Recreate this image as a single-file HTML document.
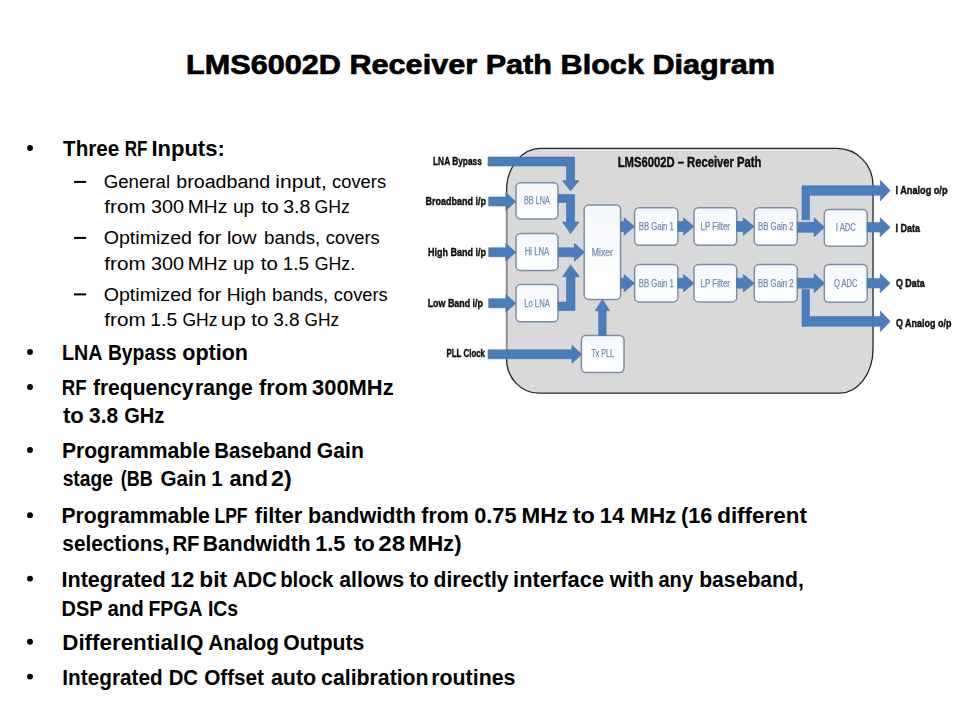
<!DOCTYPE html>
<html><head><meta charset="utf-8"><style>
html,body{margin:0;padding:0;background:#fff;}
svg{display:block;font-family:"Liberation Sans",sans-serif;}
</style></head><body>
<svg width="960" height="720" viewBox="0 0 960 720">
<defs><filter id="bl" x="-5%" y="-5%" width="110%" height="110%"><feGaussianBlur stdDeviation="0.45"/></filter><linearGradient id="bg" x1="0" y1="0" x2="0" y2="1"><stop offset="0" stop-color="#f4f7fb"/><stop offset="1" stop-color="#ffffff"/></linearGradient></defs>
<rect width="960" height="720" fill="#fff"/>
<text x="186" y="74" textLength="589" lengthAdjust="spacingAndGlyphs" font-size="28.5" font-weight="bold" fill="#000" stroke="#000" stroke-width="0.7">LMS6002D Receiver Path Block Diagram</text>
<text x="63.07" y="155.7" textLength="56.13" lengthAdjust="spacingAndGlyphs" font-size="22.5" font-weight="bold" fill="#000">Three</text>
<text x="124.66" y="155.7" textLength="22.67" lengthAdjust="spacingAndGlyphs" font-size="22.5" font-weight="bold" fill="#000">RF</text>
<text x="151.42" y="155.7" textLength="73.38" lengthAdjust="spacingAndGlyphs" font-size="22.5" font-weight="bold" fill="#000">Inputs:</text>
<text x="103.67" y="187.7" textLength="66.40" lengthAdjust="spacingAndGlyphs" font-size="18" font-weight="normal" fill="#000">General</text>
<text x="176.22" y="187.7" textLength="94.04" lengthAdjust="spacingAndGlyphs" font-size="18" font-weight="normal" fill="#000">broadband</text>
<text x="275.39" y="187.7" textLength="51.41" lengthAdjust="spacingAndGlyphs" font-size="18" font-weight="normal" fill="#000">input,</text>
<text x="332.13" y="187.7" textLength="53.93" lengthAdjust="spacingAndGlyphs" font-size="18" font-weight="normal" fill="#000">covers</text>
<text x="104.31" y="212.6" textLength="41.35" lengthAdjust="spacingAndGlyphs" font-size="18" font-weight="normal" fill="#000">from</text>
<text x="151.05" y="212.6" textLength="33.03" lengthAdjust="spacingAndGlyphs" font-size="18" font-weight="normal" fill="#000">300</text>
<text x="187.83" y="212.6" textLength="39.44" lengthAdjust="spacingAndGlyphs" font-size="18" font-weight="normal" fill="#000">MHz</text>
<text x="232.95" y="212.6" textLength="21.36" lengthAdjust="spacingAndGlyphs" font-size="18" font-weight="normal" fill="#000">up</text>
<text x="261.18" y="212.6" textLength="17.71" lengthAdjust="spacingAndGlyphs" font-size="18" font-weight="normal" fill="#000">to</text>
<text x="283.26" y="212.6" textLength="27.19" lengthAdjust="spacingAndGlyphs" font-size="18" font-weight="normal" fill="#000">3.8</text>
<text x="314.52" y="212.6" textLength="35.37" lengthAdjust="spacingAndGlyphs" font-size="18" font-weight="normal" fill="#000">GHz</text>
<text x="103.68" y="243.6" textLength="88.29" lengthAdjust="spacingAndGlyphs" font-size="18" font-weight="normal" fill="#000">Optimized</text>
<text x="198.02" y="243.6" textLength="23.42" lengthAdjust="spacingAndGlyphs" font-size="18" font-weight="normal" fill="#000">for</text>
<text x="226.97" y="243.6" textLength="29.70" lengthAdjust="spacingAndGlyphs" font-size="18" font-weight="normal" fill="#000">low</text>
<text x="264.09" y="243.6" textLength="56.09" lengthAdjust="spacingAndGlyphs" font-size="18" font-weight="normal" fill="#000">bands,</text>
<text x="325.83" y="243.6" textLength="53.93" lengthAdjust="spacingAndGlyphs" font-size="18" font-weight="normal" fill="#000">covers</text>
<text x="104.31" y="269.8" textLength="41.35" lengthAdjust="spacingAndGlyphs" font-size="18" font-weight="normal" fill="#000">from</text>
<text x="151.05" y="269.8" textLength="33.03" lengthAdjust="spacingAndGlyphs" font-size="18" font-weight="normal" fill="#000">300</text>
<text x="187.83" y="269.8" textLength="39.44" lengthAdjust="spacingAndGlyphs" font-size="18" font-weight="normal" fill="#000">MHz</text>
<text x="232.95" y="269.8" textLength="21.36" lengthAdjust="spacingAndGlyphs" font-size="18" font-weight="normal" fill="#000">up</text>
<text x="260.89" y="269.8" textLength="16.96" lengthAdjust="spacingAndGlyphs" font-size="18" font-weight="normal" fill="#000">to</text>
<text x="282.87" y="269.8" textLength="26.23" lengthAdjust="spacingAndGlyphs" font-size="18" font-weight="normal" fill="#000">1.5</text>
<text x="314.71" y="269.8" textLength="40.40" lengthAdjust="spacingAndGlyphs" font-size="18" font-weight="normal" fill="#000">GHz.</text>
<text x="103.68" y="300.5" textLength="88.29" lengthAdjust="spacingAndGlyphs" font-size="18" font-weight="normal" fill="#000">Optimized</text>
<text x="198.02" y="300.5" textLength="23.42" lengthAdjust="spacingAndGlyphs" font-size="18" font-weight="normal" fill="#000">for</text>
<text x="226.72" y="300.5" textLength="39.52" lengthAdjust="spacingAndGlyphs" font-size="18" font-weight="normal" fill="#000">High</text>
<text x="272.08" y="300.5" textLength="56.19" lengthAdjust="spacingAndGlyphs" font-size="18" font-weight="normal" fill="#000">bands,</text>
<text x="333.83" y="300.5" textLength="53.93" lengthAdjust="spacingAndGlyphs" font-size="18" font-weight="normal" fill="#000">covers</text>
<text x="104.31" y="325.9" textLength="41.35" lengthAdjust="spacingAndGlyphs" font-size="18" font-weight="normal" fill="#000">from</text>
<text x="150.33" y="325.9" textLength="26.88" lengthAdjust="spacingAndGlyphs" font-size="18" font-weight="normal" fill="#000">1.5</text>
<text x="182.43" y="325.9" textLength="34.95" lengthAdjust="spacingAndGlyphs" font-size="18" font-weight="normal" fill="#000">GHz</text>
<text x="220.73" y="325.9" textLength="25.12" lengthAdjust="spacingAndGlyphs" font-size="18" font-weight="normal" fill="#000">up</text>
<text x="251.19" y="325.9" textLength="17.17" lengthAdjust="spacingAndGlyphs" font-size="18" font-weight="normal" fill="#000">to</text>
<text x="273.28" y="325.9" textLength="26.44" lengthAdjust="spacingAndGlyphs" font-size="18" font-weight="normal" fill="#000">3.8</text>
<text x="304.54" y="325.9" textLength="34.53" lengthAdjust="spacingAndGlyphs" font-size="18" font-weight="normal" fill="#000">GHz</text>
<text x="61.98" y="360" textLength="40.43" lengthAdjust="spacingAndGlyphs" font-size="22.5" font-weight="bold" fill="#000">LNA</text>
<text x="107.91" y="360" textLength="68.70" lengthAdjust="spacingAndGlyphs" font-size="22.5" font-weight="bold" fill="#000">Bypass</text>
<text x="182.26" y="360" textLength="65.78" lengthAdjust="spacingAndGlyphs" font-size="22.5" font-weight="bold" fill="#000">option</text>
<text x="61.85" y="395" textLength="24.84" lengthAdjust="spacingAndGlyphs" font-size="22.5" font-weight="bold" fill="#000">RF</text>
<text x="92.94" y="395" textLength="100.47" lengthAdjust="spacingAndGlyphs" font-size="22.5" font-weight="bold" fill="#000">frequency</text>
<text x="195.10" y="395" textLength="57.62" lengthAdjust="spacingAndGlyphs" font-size="22.5" font-weight="bold" fill="#000">range</text>
<text x="259.03" y="395" textLength="48.58" lengthAdjust="spacingAndGlyphs" font-size="22.5" font-weight="bold" fill="#000">from</text>
<text x="312.00" y="395" textLength="81.69" lengthAdjust="spacingAndGlyphs" font-size="22.5" font-weight="bold" fill="#000">300MHz</text>
<text x="62.93" y="422.8" textLength="20.93" lengthAdjust="spacingAndGlyphs" font-size="22.5" font-weight="bold" fill="#000">to</text>
<text x="89.02" y="422.8" textLength="29.03" lengthAdjust="spacingAndGlyphs" font-size="22.5" font-weight="bold" fill="#000">3.8</text>
<text x="124.17" y="422.8" textLength="40.25" lengthAdjust="spacingAndGlyphs" font-size="22.5" font-weight="bold" fill="#000">GHz</text>
<text x="61.88" y="457.5" textLength="148.04" lengthAdjust="spacingAndGlyphs" font-size="22.5" font-weight="bold" fill="#000">Programmable</text>
<text x="214.23" y="457.5" textLength="97.52" lengthAdjust="spacingAndGlyphs" font-size="22.5" font-weight="bold" fill="#000">Baseband</text>
<text x="316.83" y="457.5" textLength="46.97" lengthAdjust="spacingAndGlyphs" font-size="22.5" font-weight="bold" fill="#000">Gain</text>
<text x="62.63" y="486" textLength="50.34" lengthAdjust="spacingAndGlyphs" font-size="22.5" font-weight="bold" fill="#000">stage</text>
<text x="120.80" y="486" textLength="31.91" lengthAdjust="spacingAndGlyphs" font-size="22.5" font-weight="bold" fill="#000">(BB</text>
<text x="160.40" y="486" textLength="45.87" lengthAdjust="spacingAndGlyphs" font-size="22.5" font-weight="bold" fill="#000">Gain</text>
<text x="211.23" y="486" textLength="11.24" lengthAdjust="spacingAndGlyphs" font-size="22.5" font-weight="bold" fill="#000">1</text>
<text x="229.57" y="486" textLength="38.56" lengthAdjust="spacingAndGlyphs" font-size="22.5" font-weight="bold" fill="#000">and</text>
<text x="271.09" y="486" textLength="20.68" lengthAdjust="spacingAndGlyphs" font-size="22.5" font-weight="bold" fill="#000">2)</text>
<text x="61.48" y="522.7" textLength="148.45" lengthAdjust="spacingAndGlyphs" font-size="22.5" font-weight="bold" fill="#000">Programmable</text>
<text x="214.43" y="522.7" textLength="33.12" lengthAdjust="spacingAndGlyphs" font-size="22.5" font-weight="bold" fill="#000">LPF</text>
<text x="254.83" y="522.7" textLength="47.50" lengthAdjust="spacingAndGlyphs" font-size="22.5" font-weight="bold" fill="#000">filter</text>
<text x="307.97" y="522.7" textLength="107.97" lengthAdjust="spacingAndGlyphs" font-size="22.5" font-weight="bold" fill="#000">bandwidth</text>
<text x="421.34" y="522.7" textLength="47.49" lengthAdjust="spacingAndGlyphs" font-size="22.5" font-weight="bold" fill="#000">from</text>
<text x="474.34" y="522.7" textLength="42.08" lengthAdjust="spacingAndGlyphs" font-size="22.5" font-weight="bold" fill="#000">0.75</text>
<text x="521.60" y="522.7" textLength="46.12" lengthAdjust="spacingAndGlyphs" font-size="22.5" font-weight="bold" fill="#000">MHz</text>
<text x="572.82" y="522.7" textLength="22.09" lengthAdjust="spacingAndGlyphs" font-size="22.5" font-weight="bold" fill="#000">to</text>
<text x="599.71" y="522.7" textLength="24.50" lengthAdjust="spacingAndGlyphs" font-size="22.5" font-weight="bold" fill="#000">14</text>
<text x="630.20" y="522.7" textLength="46.12" lengthAdjust="spacingAndGlyphs" font-size="22.5" font-weight="bold" fill="#000">MHz</text>
<text x="680.91" y="522.7" textLength="31.48" lengthAdjust="spacingAndGlyphs" font-size="22.5" font-weight="bold" fill="#000">(16</text>
<text x="717.18" y="522.7" textLength="89.79" lengthAdjust="spacingAndGlyphs" font-size="22.5" font-weight="bold" fill="#000">different</text>
<text x="62.37" y="551" textLength="107.32" lengthAdjust="spacingAndGlyphs" font-size="22.5" font-weight="bold" fill="#000">selections,</text>
<text x="172.39" y="551" textLength="27.12" lengthAdjust="spacingAndGlyphs" font-size="22.5" font-weight="bold" fill="#000">RF</text>
<text x="202.79" y="551" textLength="107.91" lengthAdjust="spacingAndGlyphs" font-size="22.5" font-weight="bold" fill="#000">Bandwidth</text>
<text x="315.34" y="551" textLength="30.07" lengthAdjust="spacingAndGlyphs" font-size="22.5" font-weight="bold" fill="#000">1.5</text>
<text x="353.93" y="551" textLength="20.93" lengthAdjust="spacingAndGlyphs" font-size="22.5" font-weight="bold" fill="#000">to</text>
<text x="378.35" y="551" textLength="26.90" lengthAdjust="spacingAndGlyphs" font-size="22.5" font-weight="bold" fill="#000">28</text>
<text x="408.72" y="551" textLength="52.79" lengthAdjust="spacingAndGlyphs" font-size="22.5" font-weight="bold" fill="#000">MHz)</text>
<text x="61.45" y="587" textLength="104.37" lengthAdjust="spacingAndGlyphs" font-size="22.5" font-weight="bold" fill="#000">Integrated</text>
<text x="170.34" y="587" textLength="24.03" lengthAdjust="spacingAndGlyphs" font-size="22.5" font-weight="bold" fill="#000">12</text>
<text x="199.29" y="587" textLength="27.87" lengthAdjust="spacingAndGlyphs" font-size="22.5" font-weight="bold" fill="#000">bit</text>
<text x="232.79" y="587" textLength="44.02" lengthAdjust="spacingAndGlyphs" font-size="22.5" font-weight="bold" fill="#000">ADC</text>
<text x="280.15" y="587" textLength="53.32" lengthAdjust="spacingAndGlyphs" font-size="22.5" font-weight="bold" fill="#000">block</text>
<text x="339.18" y="587" textLength="65.00" lengthAdjust="spacingAndGlyphs" font-size="22.5" font-weight="bold" fill="#000">allows</text>
<text x="409.15" y="587" textLength="19.77" lengthAdjust="spacingAndGlyphs" font-size="22.5" font-weight="bold" fill="#000">to</text>
<text x="433.53" y="587" textLength="75.07" lengthAdjust="spacingAndGlyphs" font-size="22.5" font-weight="bold" fill="#000">directly</text>
<text x="513.07" y="587" textLength="90.98" lengthAdjust="spacingAndGlyphs" font-size="22.5" font-weight="bold" fill="#000">interface</text>
<text x="609.87" y="587" textLength="43.99" lengthAdjust="spacingAndGlyphs" font-size="22.5" font-weight="bold" fill="#000">with</text>
<text x="658.42" y="587" textLength="34.69" lengthAdjust="spacingAndGlyphs" font-size="22.5" font-weight="bold" fill="#000">any</text>
<text x="699.20" y="587" textLength="104.61" lengthAdjust="spacingAndGlyphs" font-size="22.5" font-weight="bold" fill="#000">baseband,</text>
<text x="61.56" y="615.6" textLength="41.02" lengthAdjust="spacingAndGlyphs" font-size="22.5" font-weight="bold" fill="#000">DSP</text>
<text x="107.51" y="615.6" textLength="36.34" lengthAdjust="spacingAndGlyphs" font-size="22.5" font-weight="bold" fill="#000">and</text>
<text x="148.50" y="615.6" textLength="53.90" lengthAdjust="spacingAndGlyphs" font-size="22.5" font-weight="bold" fill="#000">FPGA</text>
<text x="207.90" y="615.6" textLength="30.20" lengthAdjust="spacingAndGlyphs" font-size="22.5" font-weight="bold" fill="#000">ICs</text>
<text x="62.25" y="649.6" textLength="116.84" lengthAdjust="spacingAndGlyphs" font-size="22.5" font-weight="bold" fill="#000">Differential</text>
<text x="180.01" y="649.6" textLength="23.41" lengthAdjust="spacingAndGlyphs" font-size="22.5" font-weight="bold" fill="#000">IQ</text>
<text x="208.23" y="649.6" textLength="70.66" lengthAdjust="spacingAndGlyphs" font-size="22.5" font-weight="bold" fill="#000">Analog</text>
<text x="283.23" y="649.6" textLength="81.15" lengthAdjust="spacingAndGlyphs" font-size="22.5" font-weight="bold" fill="#000">Outputs</text>
<text x="62.36" y="684.5" textLength="100.26" lengthAdjust="spacingAndGlyphs" font-size="22.5" font-weight="bold" fill="#000">Integrated</text>
<text x="168.64" y="684.5" textLength="29.42" lengthAdjust="spacingAndGlyphs" font-size="22.5" font-weight="bold" fill="#000">DC</text>
<text x="204.15" y="684.5" textLength="59.85" lengthAdjust="spacingAndGlyphs" font-size="22.5" font-weight="bold" fill="#000">Offset</text>
<text x="270.88" y="684.5" textLength="45.36" lengthAdjust="spacingAndGlyphs" font-size="22.5" font-weight="bold" fill="#000">auto</text>
<text x="321.07" y="684.5" textLength="107.54" lengthAdjust="spacingAndGlyphs" font-size="22.5" font-weight="bold" fill="#000">calibration</text>
<text x="431.19" y="684.5" textLength="84.28" lengthAdjust="spacingAndGlyphs" font-size="22.5" font-weight="bold" fill="#000">routines</text>
<circle cx="30" cy="148" r="2.95" fill="#000"/>
<circle cx="30" cy="352" r="2.95" fill="#000"/>
<circle cx="30" cy="387" r="2.95" fill="#000"/>
<circle cx="30" cy="450" r="2.95" fill="#000"/>
<circle cx="30" cy="515.2" r="2.95" fill="#000"/>
<circle cx="30" cy="578.6" r="2.95" fill="#000"/>
<circle cx="30" cy="641.8" r="2.95" fill="#000"/>
<circle cx="30" cy="676.6" r="2.95" fill="#000"/>
<rect x="74" y="180.9" width="12.2" height="2" fill="#000"/>
<rect x="74" y="236.9" width="12.2" height="2" fill="#000"/>
<rect x="74" y="293.4" width="12.2" height="2" fill="#000"/>
<g filter="url(#bl)">
<path d="M540.6,148.3 L837,148.3 A36,37 0 0 1 873,185.3 L873,349.1 A33,44 0 0 1 840,393.1 L538.6,393.1 A32,34 0 0 1 506.6,359.1 L506.6,190.3 A34,42 0 0 1 540.6,148.3 Z" fill="#d9d9d9" stroke="#262626" stroke-width="1.3"/>
<path d="M506.6,192.3 L506.6,357.1" stroke="#8a8a8a" stroke-width="1.4" fill="none"/>
<path d="M873,187.3 L873,347.1" stroke="#6a6a6a" stroke-width="1.4" fill="none"/>
<text x="617.7" y="167" textLength="143.8" lengthAdjust="spacingAndGlyphs" font-size="15" font-weight="bold" fill="#111" stroke="#111" stroke-width="0.45">LMS6002D – Receiver Path</text>
<rect x="516" y="182.7" width="42" height="36.30000000000001" rx="4.5" fill="url(#bg)" stroke="#7b8fa9" stroke-width="1.5"/>
<text x="524.0" y="204.2" textLength="26.0" lengthAdjust="spacingAndGlyphs" font-size="10" fill="#738cb0" stroke="#738cb0" stroke-width="0.25">BB LNA</text>
<rect x="516" y="233.5" width="42" height="36.89999999999998" rx="4.5" fill="url(#bg)" stroke="#7b8fa9" stroke-width="1.5"/>
<text x="524.7" y="255.3" textLength="24.6" lengthAdjust="spacingAndGlyphs" font-size="10" fill="#738cb0" stroke="#738cb0" stroke-width="0.25">Hi LNA</text>
<rect x="516" y="284.6" width="42" height="37.099999999999966" rx="4.5" fill="url(#bg)" stroke="#7b8fa9" stroke-width="1.5"/>
<text x="524.2" y="306.5" textLength="25.6" lengthAdjust="spacingAndGlyphs" font-size="10" fill="#738cb0" stroke="#738cb0" stroke-width="0.25">Lo LNA</text>
<rect x="584.2" y="205" width="36.39999999999998" height="94.39999999999998" rx="4.5" fill="url(#bg)" stroke="#7b8fa9" stroke-width="1.5"/>
<text x="591.8" y="255.6" textLength="21.2" lengthAdjust="spacingAndGlyphs" font-size="10" fill="#738cb0" stroke="#738cb0" stroke-width="0.25">Mixer</text>
<rect x="581.4" y="335.5" width="42.60000000000002" height="37.0" rx="4.5" fill="url(#bg)" stroke="#7b8fa9" stroke-width="1.5"/>
<text x="591.5" y="357.4" textLength="22.5" lengthAdjust="spacingAndGlyphs" font-size="10" fill="#738cb0" stroke="#738cb0" stroke-width="0.25">Tx PLL</text>
<rect x="634.6" y="207.7" width="43.299999999999955" height="37.5" rx="4.5" fill="url(#bg)" stroke="#7b8fa9" stroke-width="1.5"/>
<text x="638.8" y="229.8" textLength="35.0" lengthAdjust="spacingAndGlyphs" font-size="10" fill="#738cb0" stroke="#738cb0" stroke-width="0.25">BB Gain 1</text>
<rect x="694" y="207.7" width="42.700000000000045" height="37.5" rx="4.5" fill="url(#bg)" stroke="#7b8fa9" stroke-width="1.5"/>
<text x="700.6" y="229.8" textLength="29.4" lengthAdjust="spacingAndGlyphs" font-size="10" fill="#738cb0" stroke="#738cb0" stroke-width="0.25">LP Filter</text>
<rect x="754.3" y="207.7" width="43.0" height="37.5" rx="4.5" fill="url(#bg)" stroke="#7b8fa9" stroke-width="1.5"/>
<text x="758.1" y="229.8" textLength="35.4" lengthAdjust="spacingAndGlyphs" font-size="10" fill="#738cb0" stroke="#738cb0" stroke-width="0.25">BB Gain 2</text>
<rect x="634.6" y="264.6" width="43.299999999999955" height="37.299999999999955" rx="4.5" fill="url(#bg)" stroke="#7b8fa9" stroke-width="1.5"/>
<text x="638.8" y="286.6" textLength="35.0" lengthAdjust="spacingAndGlyphs" font-size="10" fill="#738cb0" stroke="#738cb0" stroke-width="0.25">BB Gain 1</text>
<rect x="694" y="264.6" width="42.700000000000045" height="37.299999999999955" rx="4.5" fill="url(#bg)" stroke="#7b8fa9" stroke-width="1.5"/>
<text x="700.6" y="286.6" textLength="29.4" lengthAdjust="spacingAndGlyphs" font-size="10" fill="#738cb0" stroke="#738cb0" stroke-width="0.25">LP Filter</text>
<rect x="754.3" y="264.6" width="43.0" height="37.299999999999955" rx="4.5" fill="url(#bg)" stroke="#7b8fa9" stroke-width="1.5"/>
<text x="758.1" y="286.6" textLength="35.4" lengthAdjust="spacingAndGlyphs" font-size="10" fill="#738cb0" stroke="#738cb0" stroke-width="0.25">BB Gain 2</text>
<rect x="824.3" y="209.4" width="42.90000000000009" height="36.900000000000006" rx="4.5" fill="url(#bg)" stroke="#7b8fa9" stroke-width="1.5"/>
<text x="835.8" y="231.3" textLength="20.0" lengthAdjust="spacingAndGlyphs" font-size="10" fill="#738cb0" stroke="#738cb0" stroke-width="0.25">I ADC</text>
<rect x="824.3" y="264.4" width="42.90000000000009" height="37.900000000000034" rx="4.5" fill="url(#bg)" stroke="#7b8fa9" stroke-width="1.5"/>
<text x="834.1" y="286.8" textLength="23.3" lengthAdjust="spacingAndGlyphs" font-size="10" fill="#738cb0" stroke="#738cb0" stroke-width="0.25">Q ADC</text>
<path d="M488,157 L574.6,157 L574.6,180.6 L579,180.6 L570.6,191 L562.5,180.6 L566.5,180.6 L566.5,166 L488,166 Z" fill="#4a7ebb" stroke="#4373ad" stroke-width="0.6"/>
<path d="M488.7,197.0 L505.79999999999995,197.0 L505.79999999999995,192.5 L515.8,201.5 L505.79999999999995,210.5 L505.79999999999995,206.0 L488.7,206.0 Z" fill="#4a7ebb" stroke="#4373ad" stroke-width="0.6"/>
<path d="M488.7,247.8 L505.79999999999995,247.8 L505.79999999999995,243.3 L515.8,252.3 L505.79999999999995,261.3 L505.79999999999995,256.8 L488.7,256.8 Z" fill="#4a7ebb" stroke="#4373ad" stroke-width="0.6"/>
<path d="M488.7,298.8 L505.79999999999995,298.8 L505.79999999999995,294.3 L515.8,303.3 L505.79999999999995,312.3 L505.79999999999995,307.8 L488.7,307.8 Z" fill="#4a7ebb" stroke="#4373ad" stroke-width="0.6"/>
<path d="M558,194.6 L574.6,194.6 L574.6,222 L579,222 L570.6,233.7 L562.5,222 L566.5,222 L566.5,202.5 L558,202.5 Z" fill="#4a7ebb" stroke="#4373ad" stroke-width="0.6"/>
<path d="M558.3,247.8 L574.4,247.8 L574.4,243.3 L584.4,252.3 L574.4,261.3 L574.4,256.8 L558.3,256.8 Z" fill="#4a7ebb" stroke="#4373ad" stroke-width="0.6"/>
<path d="M558,310.6 L575,310.6 L575,276.7 L579.5,276.7 L570.6,264.8 L562.5,276.7 L566.5,276.7 L566.5,302 L558,302 Z" fill="#4a7ebb" stroke="#4373ad" stroke-width="0.6"/>
<path d="M488,349.8 L571.9,349.8 L571.9,345.3 L581.9,354.3 L571.9,363.3 L571.9,358.8 L488,358.8 Z" fill="#4a7ebb" stroke="#4373ad" stroke-width="0.6"/>
<path d="M598.65,335.5 L598.65,310.7 L595.15,310.7 L602.4,299.2 L609.65,310.7 L606.15,310.7 L606.15,335.5 Z" fill="#4a7ebb" stroke="#4373ad" stroke-width="0.6"/>
<path d="M620.6,221.5 L624.1,221.5 L624.1,217.75 L634.6,226.5 L624.1,235.25 L624.1,231.5 L620.6,231.5 Z" fill="#4a7ebb" stroke="#4373ad" stroke-width="0.6"/>
<path d="M677.9,221.5 L683.5,221.5 L683.5,217.75 L694,226.5 L683.5,235.25 L683.5,231.5 L677.9,231.5 Z" fill="#4a7ebb" stroke="#4373ad" stroke-width="0.6"/>
<path d="M736.7,221.5 L743.3,221.5 L743.3,217.75 L754.3,226.5 L743.3,235.25 L743.3,231.5 L736.7,231.5 Z" fill="#4a7ebb" stroke="#4373ad" stroke-width="0.6"/>
<path d="M797.3,222.3 L814.1,222.3 L814.1,217.8 L824.6,227.3 L814.1,236.8 L814.1,232.3 L797.3,232.3 Z" fill="#4a7ebb" stroke="#4373ad" stroke-width="0.6"/>
<path d="M867.2,222.55 L880.2,222.55 L880.2,217.8 L890.2,227.3 L880.2,236.8 L880.2,232.05 L867.2,232.05 Z" fill="#4a7ebb" stroke="#4373ad" stroke-width="0.6"/>
<path d="M620.6,278.2 L624.1,278.2 L624.1,274.45 L634.6,283.2 L624.1,291.95 L624.1,288.2 L620.6,288.2 Z" fill="#4a7ebb" stroke="#4373ad" stroke-width="0.6"/>
<path d="M677.9,278.2 L683.5,278.2 L683.5,274.45 L694,283.2 L683.5,291.95 L683.5,288.2 L677.9,288.2 Z" fill="#4a7ebb" stroke="#4373ad" stroke-width="0.6"/>
<path d="M736.7,278.2 L743.3,278.2 L743.3,274.45 L754.3,283.2 L743.3,291.95 L743.3,288.2 L736.7,288.2 Z" fill="#4a7ebb" stroke="#4373ad" stroke-width="0.6"/>
<path d="M797.3,278.2 L814.1,278.2 L814.1,273.7 L824.6,283.2 L814.1,292.7 L814.1,288.2 L797.3,288.2 Z" fill="#4a7ebb" stroke="#4373ad" stroke-width="0.6"/>
<path d="M867.2,278.45 L880.2,278.45 L880.2,273.7 L890.2,283.2 L880.2,292.7 L880.2,287.95 L867.2,287.95 Z" fill="#4a7ebb" stroke="#4373ad" stroke-width="0.6"/>
<path d="M802,219.8 L802,185.8 L880.3,185.8 L880.3,180.3 L890.2,190.5 L880.3,201 L880.3,195.3 L809.5,195.3 L809.5,219.8 Z" fill="#4a7ebb" stroke="#4373ad" stroke-width="0.6"/>
<path d="M802,289.6 L802,326.3 L880.3,326.3 L880.3,331.8 L890.2,321.3 L880.3,310.9 L880.3,316.6 L809.5,316.6 L809.5,289.6 Z" fill="#4a7ebb" stroke="#4373ad" stroke-width="0.6"/>
<text x="433" y="164.6" textLength="48.9" lengthAdjust="spacingAndGlyphs" font-size="11.5" font-weight="bold" fill="#111" stroke="#111" stroke-width="0.45">LNA Bypass</text>
<text x="425.6" y="204.6" textLength="60.4" lengthAdjust="spacingAndGlyphs" font-size="11.5" font-weight="bold" fill="#111" stroke="#111" stroke-width="0.45">Broadband i/p</text>
<text x="428" y="255.6" textLength="58.0" lengthAdjust="spacingAndGlyphs" font-size="11.5" font-weight="bold" fill="#111" stroke="#111" stroke-width="0.45">High Band i/p</text>
<text x="427.7" y="307" textLength="55.3" lengthAdjust="spacingAndGlyphs" font-size="11.5" font-weight="bold" fill="#111" stroke="#111" stroke-width="0.45">Low Band i/p</text>
<text x="446.5" y="357" textLength="38.5" lengthAdjust="spacingAndGlyphs" font-size="11.5" font-weight="bold" fill="#111" stroke="#111" stroke-width="0.45">PLL Clock</text>
<text x="895.5" y="193.6" textLength="52.0" lengthAdjust="spacingAndGlyphs" font-size="11.5" font-weight="bold" fill="#111" stroke="#111" stroke-width="0.45">I Analog o/p</text>
<text x="895.5" y="231.5" textLength="24.5" lengthAdjust="spacingAndGlyphs" font-size="11.5" font-weight="bold" fill="#111" stroke="#111" stroke-width="0.45">I Data</text>
<text x="896" y="287" textLength="28.6" lengthAdjust="spacingAndGlyphs" font-size="11.5" font-weight="bold" fill="#111" stroke="#111" stroke-width="0.45">Q Data</text>
<text x="896" y="326.8" textLength="55.4" lengthAdjust="spacingAndGlyphs" font-size="11.5" font-weight="bold" fill="#111" stroke="#111" stroke-width="0.45">Q Analog o/p</text>
</g>
</svg>
</body></html>
